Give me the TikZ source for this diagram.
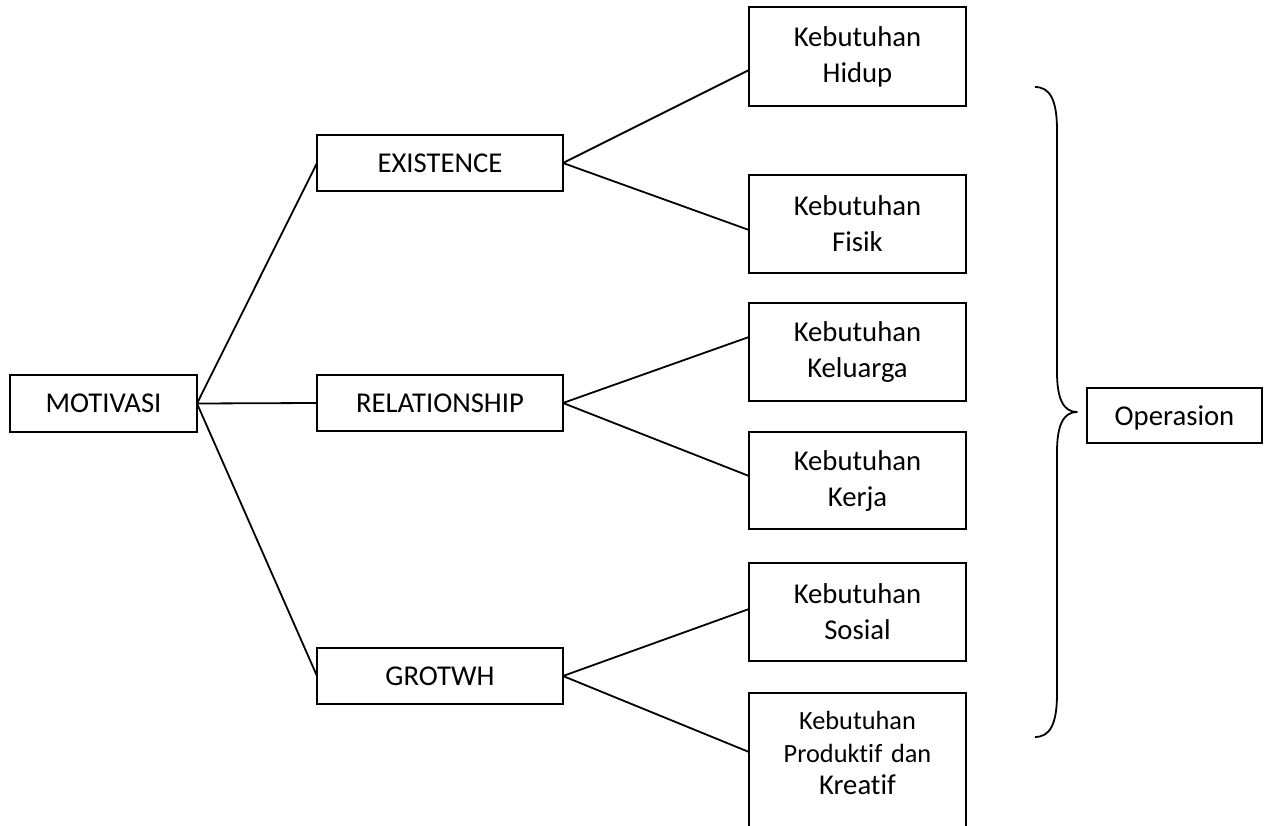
\documentclass[tikz,border=0pt]{standalone}
\usepackage{fontspec}
\setmainfont{Carlito}[Ligatures={NoCommon}]
\begin{document}
\begin{tikzpicture}[x=1pt,y=-1pt,
  box/.style={draw, line width=1.8pt, inner sep=0pt, outer sep=0pt, align=center,
              font=\fontsize{28.7}{36}\selectfont},
  midbox/.style={box, minimum width=246pt, minimum height=56pt, text depth=0pt},
  needbox/.style={box, minimum width=217pt, minimum height=98pt},
  link/.style={line width=1.8pt},
  bracket/.style={line width=1.8pt, line join=round}]
\useasboundingbox (0,0) rectangle (1270,826);
\clip (0,0) rectangle (1270,826);

% root
\node[box, minimum width=187pt, minimum height=57pt, text depth=0pt] (mot) at (103.5,403.5) {MOTIVASI};

% ERG groups
\node[midbox] (ex)  at (440,163) {EXISTENCE};
\node[midbox] (rel) at (440,403) {RELATIONSHIP};
\node[midbox] (gro) at (440,676) {GROTWH};

% needs
\node[needbox, minimum height=99pt] (k1) at (857.5,56.5) {Kebutuhan\\Hidup};
\node[needbox] (k2) at (857.5,224) {Kebutuhan\\Fisik};
\node[needbox] (k3) at (857.5,352) {Kebutuhan\\Keluarga};
\node[needbox, minimum height=97pt] (k4) at (857.5,480.5) {Kebutuhan\\Kerja};
\node[needbox] (k5) at (857.5,612) {Kebutuhan\\Sosial};
\node[needbox, minimum height=150pt] (k6) at (857.5,768) {};
\node[inner sep=0pt, anchor=north, text width=217pt, align=center,
      font=\fontsize{26.3}{32.5}\selectfont] (k6t) at (857.5,711.5)
      {Kebutuhan\\Produktif dan\\{\fontsize{28.7}{32.5}\selectfont Kreatif}};

% result
\node[box, minimum width=175pt, minimum height=55pt, text depth=0pt] (op) at (1174.5,415.5) {Operasion};

% connectors
\draw[link] (mot.east) -- (ex.west);
\draw[link] (mot.east) -- (rel.west);
\draw[link] (mot.east) -- (gro.west);

\draw[link] (ex.east) -- ([yshift=-13.5pt]k1.west);
\draw[link] (ex.east) -- ([yshift=-6pt]k2.west);
\draw[link] (rel.east) -- ([yshift=15pt]k3.west);
\draw[link] (rel.east) -- ([yshift=4.5pt]k4.west);
\draw[link] (gro.east) -- ([yshift=3pt]k5.west);
\draw[link] (gro.east) -- ([yshift=-59pt]k6.north west);

% curly bracket gathering the needs
\coordinate (bt) at (1035,87);
\coordinate (bm) at (1077,412);
\coordinate (bb) at (1035,737);
\draw[bracket] (bt) .. controls (1050,87) and (1057,100) .. (1057,130)
  -- (1057,372) .. controls (1057,398) and (1063,412) .. (bm)
  .. controls (1063,412) and (1057,426) .. (1057,452)
  -- (1057,694) .. controls (1057,724) and (1050,737) .. (bb);
\end{tikzpicture}
\end{document}
